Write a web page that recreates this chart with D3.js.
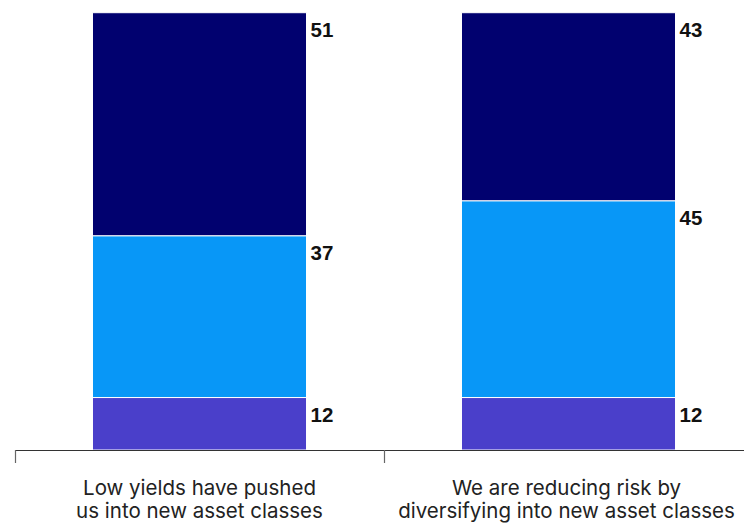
<!DOCTYPE html>
<html>
<head>
<meta charset="utf-8">
<script src="https://cdn.jsdelivr.net/npm/d3@7"></script>
<style>
  html, body { margin: 0; padding: 0; background: #fff; }
  svg { display: block; }
</style>
</head>
<body>
<svg id="chart" width="744" height="523"></svg>
<script>
const categories = [
  ["Low yields have pushed", "us into new asset classes"],
  ["We are reducing risk by", "diversifying into new asset classes"]
];
const seriesKeys = ["bottom", "middle", "top"];
const bottomValues = [12, 12];
const middleValues = [37, 45];
const topValues = [51, 43];
const colors = ["#4a3fca", "#0897f7", "#01016f"];

const data = categories.map((c, i) => ({
  idx: i,
  bottom: bottomValues[i],
  middle: middleValues[i],
  top: topValues[i]
}));

const svg = d3.select("#chart");
const margin = { left: 15, top: 12.7, bottom: 450 };
const bandStep = 369;

const x = d3.scaleBand()
  .domain(data.map(d => d.idx))
  .range([margin.left, margin.left + bandStep * data.length])
  .paddingInner(0.42)
  .paddingOuter(0.21);

const y = d3.scaleLinear().domain([0, 100]).range([margin.bottom, margin.top]);

const stack = d3.stack().keys(seriesKeys);
const layers = stack(data);

const g = svg.append("g");
layers.forEach((layer, li) => {
  g.selectAll(null)
    .data(layer)
    .enter()
    .append("rect")
    .attr("x", d => x(d.data.idx))
    .attr("width", x.bandwidth())
    .attr("y", d => y(d[1]))
    .attr("height", d => y(d[0]) - y(d[1]))
    .attr("fill", colors[li])
    .attr("stroke", "#ffffff")
    .attr("stroke-width", 1);

  g.selectAll(null)
    .data(layer)
    .enter()
    .append("text")
    .attr("x", d => x(d.data.idx) + x.bandwidth() + 4)
    .attr("y", d => y(d[1]) + 24.5)
    .attr("font-family", "'Liberation Sans', Arial, sans-serif")
    .attr("font-weight", "bold")
    .attr("font-size", 20.5)
    .attr("fill", "#111")
    .text(d => d[1] - d[0]);
});

// axis
const axisG = svg.append("g");
axisG.append("line")
  .attr("x1", margin.left).attr("x2", 744)
  .attr("y1", margin.bottom + 0.5).attr("y2", margin.bottom + 0.5)
  .attr("stroke", "#333").attr("stroke-width", 1.2);

const tickXs = d3.range(data.length + 1).map(i => margin.left + i * bandStep);
axisG.selectAll(null)
  .data(tickXs)
  .enter()
  .append("line")
  .attr("x1", d => d + 0.5).attr("x2", d => d + 0.5)
  .attr("y1", margin.bottom).attr("y2", margin.bottom + 13)
  .attr("stroke", "#666").attr("stroke-width", 1.2);

const labels = axisG.selectAll(null)
  .data(data)
  .enter()
  .append("text")
  .attr("text-anchor", "middle")
  .attr("font-family", "Inter, sans-serif")
  .attr("font-size", 20.5)
  .attr("fill", "#222");

labels.each(function(d) {
  const t = d3.select(this);
  const cx = margin.left + d.idx * bandStep + bandStep / 2 - (d.idx === 1 ? 2 : 0);
  categories[d.idx].forEach((line, li) => {
    t.append("tspan")
      .attr("x", cx)
      .attr("y", 495 + li * 23)
      .text(line);
  });
});
</script>
</body>
</html>
